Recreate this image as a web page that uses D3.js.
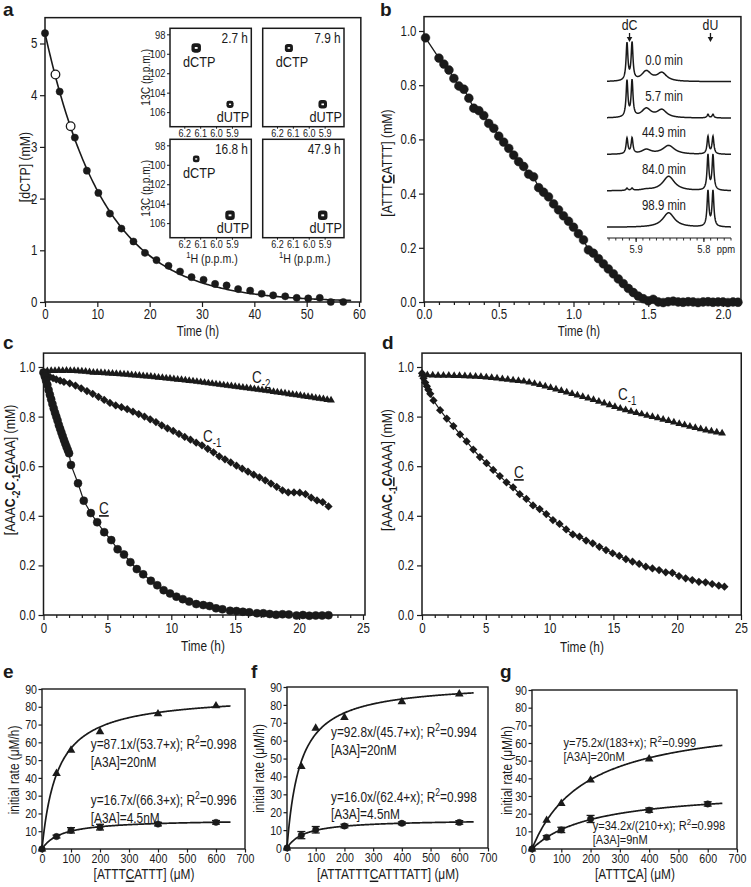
<!DOCTYPE html>
<html><head><meta charset="utf-8">
<script src="https://cdn.jsdelivr.net/npm/d3@7"></script>
<style>
body{margin:0;background:#fff;}
svg{display:block;}
</style></head><body>
<svg id="chart" width="751" height="887"></svg>
<script>
// ---------------- DATA ----------------
// panel a: dCTP decay
const aTime = [0, 2.8, 5.7, 8.0, 10.2, 12.4, 14.6, 16.9, 19.1, 21.3, 23.6, 25.8, 28.0, 30.3, 32.5, 34.7, 36.9, 39.2, 41.4, 43.6, 45.9, 48.1, 50.3, 52.5, 54.6, 57.0];
const aConc = [5.2, 4.07, 3.18, 2.54, 2.11, 1.71, 1.42, 1.17, 0.95, 0.81, 0.70, 0.59, 0.48, 0.43, 0.35, 0.32, 0.25, 0.22, 0.16, 0.13, 0.11, 0.08, 0.07, 0.08, 0.0, 0.0];
const aOpenTime = [2.0, 4.9];
const aOpenConc = [4.40, 3.40];
const aFitA0 = 5.2, aFitK = 0.088, aFitEnd = 58.5;
const aXTicks = [0, 10, 20, 30, 40, 50, 60];
const aYTicks = [0, 1, 2, 3, 4, 5];
// panel a insets (HSQC)
const insetLabels = ["2.7 h", "7.9 h", "16.8 h", "47.9 h"];
const dctpInt = [1.0, 0.85, 0.7, 0];
const dutpInt = [0.75, 0.9, 1.0, 1.0];
const peakH = [6.125, 5.912];   // 1H ppm of dCTP, dUTP
const peakC = [99.4, 105.2];    // 13C ppm of dCTP, dUTP
const insetXTicks = [6.2, 6.1, 6.0, 5.9];
const insetYTicks = [98, 100, 102, 104, 106];

// panel b
const bTime = [0.01,0.10,0.133,0.167,0.20,0.233,0.267,0.30,0.333,0.367,0.40,0.433,0.467,0.50,0.533,0.567,0.60,0.633,0.667,0.70,0.733,0.767,0.80,0.833,0.867,0.90,0.933,0.967,1.00,1.033,1.067,1.10,1.133,1.167,1.20,1.233,1.267,1.30,1.333,1.367,1.40,1.433,1.467,1.50,1.533,1.567,1.60,1.633,1.667,1.70,1.733,1.767,1.80,1.833,1.867,1.90,1.933,1.967,2.00,2.033,2.067,2.10];
const bConc = [0.975,0.900,0.878,0.856,0.825,0.797,0.785,0.752,0.715,0.706,0.688,0.659,0.641,0.612,0.590,0.567,0.542,0.518,0.500,0.472,0.462,0.422,0.405,0.388,0.362,0.340,0.318,0.298,0.276,0.252,0.229,0.192,0.180,0.160,0.141,0.122,0.104,0.085,0.068,0.050,0.035,0.022,0.012,0.004,0.010,0.000,-0.002,0.001,0.003,0.000,-0.001,0.001,0.000,-0.002,0.000,0.001,-0.001,0.000,0.000,-0.002,0.000,-0.001];
const bXTicks = [0, 0.5, 1.0, 1.5, 2.0];
const bXMinor = [0.1,0.2,0.3,0.4,0.6,0.7,0.8,0.9,1.1,1.2,1.3,1.4,1.6,1.7,1.8,1.9,2.1];
const bYTicks = [0, 0.2, 0.4, 0.6, 0.8, 1.0];
// panel b inset (1D NMR)
const specLabels = ["0.0 min", "5.7 min", "44.9 min", "84.0 min", "98.9 min"];
const specDC = [37, 36, 15.5, 2.2, 0];
const specDU = [0, 3.5, 17.5, 35, 35.5];
const specBumpA = [10, 9, 4.5, 1, 0];
const specBumpB = [8.3, 7.8, 0, 0, 0];
const specProd = [0, 0, 8.8, 14.5, 14.5];
const dCppm = [5.9135, 5.906], dUppm = [5.794, 5.7866];
const bumpAppm = 5.885, bumpBppm = 5.862, prodPpm = 5.852;
const specXTicks = [5.9, 5.8];

// panel c
const cTimeC2 = [0.0,0.3,0.6,0.9,1.2,1.5,1.8,2.1,2.4,2.7,3.0,3.3,3.6,3.9,4.2,4.5,4.8,5.1,5.4,5.7,6.0,6.3,6.6,6.9,7.2,7.5,7.8,8.1,8.4,8.7,9.0,9.3,9.6,9.9,10.2,10.5,10.8,11.1,11.4,11.7,12.0,12.3,12.6,12.9,13.2,13.5,13.8,14.1,14.4,14.7,15.0,15.3,15.6,15.9,16.2,16.5,16.8,17.1,17.4,17.7,18.0,18.3,18.6,18.9,19.2,19.5,19.8,20.1,20.4,20.7,21.0,21.3,21.6,21.9,22.2,22.5];
const cC2 = [0.980,0.984,0.985,0.985,0.986,0.985,0.986,0.985,0.985,0.984,0.983,0.982,0.980,0.978,0.978,0.977,0.976,0.975,0.974,0.973,0.972,0.971,0.970,0.968,0.967,0.966,0.964,0.963,0.962,0.960,0.958,0.957,0.955,0.954,0.952,0.950,0.949,0.947,0.945,0.943,0.941,0.939,0.937,0.935,0.933,0.931,0.929,0.927,0.925,0.923,0.921,0.919,0.917,0.915,0.913,0.911,0.909,0.907,0.905,0.903,0.900,0.898,0.896,0.894,0.891,0.889,0.887,0.885,0.882,0.880,0.878,0.875,0.873,0.871,0.868,0.866];
const cTimeC1 = [0,0.15,0.3,0.5,0.75,1.0,1.3,1.6,2.05,2.5,2.95,3.4,3.85,4.3,4.75,5.2,5.65,6.1,6.55,7.0,7.45,7.9,8.35,8.8,9.25,9.7,10.15,10.6,11.05,11.5,11.95,12.4,12.85,13.3,13.75,14.2,14.65,15.1,15.55,16.0,16.45,16.9,17.35,17.8,18.25,18.7,19.15,19.6,20.05,20.5,20.95,21.4,21.85,22.3];
const cC1 = [0.975,0.970,0.965,0.960,0.955,0.950,0.945,0.940,0.934,0.925,0.914,0.903,0.892,0.880,0.867,0.855,0.845,0.838,0.830,0.820,0.810,0.800,0.789,0.778,0.765,0.753,0.742,0.730,0.718,0.707,0.695,0.684,0.670,0.656,0.640,0.628,0.615,0.602,0.590,0.578,0.566,0.555,0.543,0.530,0.517,0.503,0.494,0.494,0.493,0.487,0.473,0.462,0.455,0.438];
const cTimeC = [0,0.1,0.2,0.3,0.4,0.5,0.6,0.7,0.8,0.9,1.0,1.1,1.2,1.3,1.4,1.5,1.6,1.7,1.8,1.9,2.0,2.15,2.7,3.15,3.7,4.2,4.75,5.3,5.8,6.3,6.8,7.3,7.8,8.4,8.9,9.4,9.9,10.4,10.9,11.4,11.95,12.5,13.0,13.5,14.0,14.6,15.1,15.6,16.1,16.7,17.2,17.7,18.2,18.7,19.2,19.8,20.3,20.8,21.3,21.8,22.3];
const cC = [0.978,0.962,0.945,0.928,0.907,0.888,0.870,0.851,0.833,0.816,0.800,0.784,0.766,0.751,0.736,0.721,0.706,0.692,0.678,0.665,0.652,0.605,0.531,0.461,0.411,0.374,0.334,0.302,0.265,0.244,0.213,0.185,0.164,0.138,0.120,0.100,0.087,0.074,0.064,0.054,0.044,0.040,0.036,0.027,0.023,0.017,0.016,0.013,0.011,0.007,0.007,0.004,0.001,0.003,0.002,-0.002,0.000,-0.003,-0.002,-0.002,-0.001];

// panel d
const dTimeC1 = [0.00,0.42,0.84,1.26,1.68,2.10,2.52,2.94,3.36,3.78,4.20,4.62,5.04,5.46,5.88,6.30,6.72,7.14,7.56,7.98,8.40,8.82,9.24,9.66,10.08,10.50,10.92,11.34,11.76,12.18,12.60,13.02,13.44,13.86,14.28,14.70,15.12,15.54,15.96,16.38,16.80,17.22,17.64,18.06,18.48,18.90,19.32,19.74,20.16,20.58,21.00,21.42,21.84,22.26,22.68,23.10,23.52];
const dC1 = [0.970,0.968,0.967,0.966,0.966,0.966,0.965,0.965,0.964,0.963,0.962,0.961,0.959,0.957,0.955,0.952,0.950,0.947,0.945,0.942,0.938,0.933,0.928,0.922,0.916,0.910,0.904,0.898,0.892,0.886,0.880,0.874,0.868,0.861,0.854,0.847,0.840,0.833,0.827,0.821,0.815,0.810,0.804,0.799,0.794,0.788,0.783,0.777,0.771,0.766,0.760,0.755,0.750,0.745,0.741,0.737,0.733];
const dTimeC = [0,0.12,0.25,0.38,0.5,0.65,0.9,1.42,1.94,2.46,2.98,3.5,4.02,4.54,5.06,5.58,6.1,6.62,7.14,7.66,8.18,8.7,9.22,9.74,10.26,10.78,11.3,11.82,12.34,12.86,13.38,13.9,14.42,14.94,15.46,15.98,16.5,17.02,17.54,18.06,18.58,19.1,19.62,20.14,20.66,21.18,21.7,22.22,22.74,23.26,23.7];
const dC = [0.975,0.955,0.937,0.922,0.908,0.892,0.865,0.826,0.792,0.762,0.728,0.700,0.667,0.637,0.612,0.585,0.560,0.535,0.515,0.487,0.468,0.442,0.427,0.407,0.383,0.367,0.345,0.325,0.316,0.300,0.289,0.275,0.262,0.249,0.238,0.225,0.215,0.206,0.195,0.188,0.181,0.172,0.170,0.157,0.148,0.141,0.134,0.132,0.125,0.118,0.114];
const cdXTicks = [0, 5, 10, 15, 20, 25];
const cdXMinor = [1,2,3,4,6,7,8,9,11,12,13,14,16,17,18,19,21,22,23,24];
const cdYTicks = [0, 0.2, 0.4, 0.6, 0.8, 1.0];

// panels e, f, g (Michaelis-Menten)
const mmSubstrate = [0, 50, 100, 200, 400, 600];
const eHigh = [0, 42.5, 55.5, 66, 76, 80.5];
const eLow = [0, 7.0, 10.5, 12.3, 14.0, 15.0];
const eLowErr = [0, 0.8, 1.5, 1.6, 1.0, 1.0];
const fHigh = [0, 45.5, 67, 73, 81.8, 86.1];
const fLow = [0, 7.2, 10.2, 12.3, 13.8, 14.3];
const fLowErr = [0, 2.0, 1.8, 1.0, 0.8, 1.0];
const gHighSubstrate = [0, 50, 100, 200, 400];
const gHigh = [0, 16.2, 25.8, 39.0, 51.0];
const gLow = [0, 6.6, 10.8, 17.0, 22.0, 25.5];
const gLowErr = [0, 1.0, 1.5, 2.0, 1.2, 1.2];
const eVmax = [87.1, 16.7], eKm = [53.7, 66.3];
const fVmax = [92.8, 16.0], fKm = [45.7, 62.4];
const gVmax = [75.2, 34.2], gKm = [183, 210];
const eR2 = ["0.998", "0.996"], fR2 = ["0.994", "0.998"], gR2 = ["0.999", "0.998"];
const eEnz = ["[A3A]=20nM", "[A3A]=4.5nM"], fEnz = ["[A3A]=20nM", "[A3A]=4.5nM"], gEnz = ["[A3A]=20nM", "[A3A]=9nM"];
const mmXTicks = [0, 100, 200, 300, 400, 500, 600, 700];
const mmYTicks = [0, 10, 20, 30, 40, 50, 60, 70, 80, 90];
const mmFitEnd = 650;

// ---------------- DRAWING ----------------
const FONT = '"Liberation Sans Narrow","Arial Narrow","Liberation Sans",Arial,sans-serif';
const NARROW = 0.82;
const INK = "#1a1a1a";
const svg = d3.select("#chart").attr("font-family", FONT);

function frame(x0, x1, y0, y1, sw) {
  svg.append("rect").attr("x", x0).attr("y", y0).attr("width", x1 - x0).attr("height", y1 - y0)
    .attr("fill", "none").attr("stroke", INK).attr("stroke-width", sw || 1.5);
}
function axes(x, y, o) {
  const Y0 = y.range()[0], X0 = x.range()[0];
  const style = g => {
    g.attr("font-family", FONT).attr("font-size", o.fs).attr("color", INK);
    g.select(".domain").remove();
    g.selectAll("line").attr("stroke-width", 1.2);
  };
  svg.append("g").attr("transform", `translate(0,${Y0})`)
    .call(d3.axisBottom(x).tickValues(o.xt).tickFormat(o.xf).tickSize(o.tl).tickPadding(o.tp)).call(style);
  if (o.xm) svg.append("g").attr("transform", `translate(0,${Y0})`)
    .call(d3.axisBottom(x).tickValues(o.xm).tickFormat("").tickSize(o.tl * 0.6)).call(style);
  svg.append("g").attr("transform", `translate(${X0},0)`)
    .call(d3.axisLeft(y).tickValues(o.yt).tickFormat(o.yf).tickSize(o.tl).tickPadding(o.tp)).call(style);
}
function rich(t, parts, fs) {
  let shift = 0;
  parts.forEach(p => {
    const want = p.sub ? fs * 0.3 : p.sup ? -fs * 0.38 : 0;
    const ts = t.append("tspan").text(p.t).attr("dy", want - shift);
    shift = want;
    if (p.sub || p.sup) ts.attr("font-size", fs * 0.72);
    if (p.b) ts.attr("font-weight", "bold");
    if (p.u) ts.attr("text-decoration", "underline");
  });
}
function label(x, y, txt, fs, opt) {
  opt = opt || {};
  const t = svg.append("text").attr("x", x).attr("y", y).attr("font-size", fs).attr("fill", INK)
    .attr("text-anchor", opt.anchor || "middle");
  if (opt.bold) t.attr("font-weight", "bold");
  if (typeof txt === "string") t.text(txt); else rich(t, txt, fs);
  return t;
}
function vlabel(x, y, parts, fs) {
  const t = svg.append("text").attr("transform", `translate(${x},${y}) rotate(-90)`)
    .attr("font-size", fs).attr("fill", INK).attr("text-anchor", "middle").attr("dy", "0.35em");
  if (typeof parts === "string") t.text(parts); else rich(t, parts, fs);
}
function dots(X, Y, x, y, r, fill) {
  const n = Math.min(X.length, Y.length);
  svg.append("g").selectAll("circle").data(d3.range(n)).join("circle")
    .attr("cx", i => x(X[i])).attr("cy", i => y(Y[i])).attr("r", r)
    .attr("fill", fill || INK).attr("stroke", INK).attr("stroke-width", fill === "white" ? 1.3 : 0.5);
}
function symbols(X, Y, x, y, type, size, rot) {
  const n = Math.min(X.length, Y.length);
  svg.append("g").selectAll("path").data(d3.range(n)).join("path")
    .attr("d", d3.symbol(type, size))
    .attr("transform", i => `translate(${x(X[i])},${y(Y[i])})` + (rot ? ` rotate(${rot})` : ""))
    .attr("fill", INK);
}
function polyline(X, Y, x, y, sw) {
  const n = Math.min(X.length, Y.length);
  svg.append("path").datum(d3.range(n))
    .attr("d", d3.line().x(i => x(X[i])).y(i => y(Y[i])))
    .attr("fill", "none").attr("stroke", INK).attr("stroke-width", sw || 1.2);
}
function panelLetter(x, y, s) {
  svg.append("text").attr("class", "wide").attr("x", x).attr("y", y).attr("font-size", 19).attr("font-weight", "bold")
    .attr("font-family", '"Liberation Sans",Arial,sans-serif').attr("fill", INK).text(s);
}

// ===== Panel a =====
{
  const x = d3.scaleLinear().domain([0, 60]).range([45, 359]);
  const y = d3.scaleLinear().domain([0, 5]).range([302, 43.5]);
  frame(x(0), x(60.35), y(5.5), y(0));
  axes(x, y, { xt: aXTicks, yt: aYTicks, xf: d3.format("d"), yf: d3.format("d"), tl: 5, tp: 2.5, fs: 14 });
  const fit = d3.range(0, aFitEnd + 0.01, 0.25);
  svg.append("path").datum(fit)
    .attr("d", d3.line().x(t => x(t)).y(t => y(aFitA0 * Math.exp(-aFitK * t))))
    .attr("fill", "none").attr("stroke", INK).attr("stroke-width", 1.6);
  dots(aTime, aConc, x, y, 3.6);
  dots(aOpenTime, aOpenConc, x, y, 4.3, "white");
  vlabel(25, 167, "[dCTP] (mM)", 15);
  label(198, 336, "Time (h)", 14);
  panelLetter(3, 16, "a");

  // insets
  const pos = [[170, 28.3], [262.7, 28.3], [170, 139.3], [262.7, 139.3]];
  const sz = d3.scaleLinear().domain([0, 1]).range([0, 9.5]);
  pos.forEach(([ix, iy], k) => {
    const xs = d3.scaleLinear().domain([6.29, 5.778]).range([ix, ix + 81.3]);
    const ys = d3.scaleLinear().domain([97.38, 107.5]).range([iy, iy + 98.4]);
    svg.append("rect").attr("x", ix).attr("y", iy).attr("width", 81.3).attr("height", 98.4)
      .attr("fill", "white").attr("stroke", INK).attr("stroke-width", 1.5);
    const gx = svg.append("g").attr("transform", `translate(0,${iy + 98.4})`)
      .call(d3.axisBottom(xs).tickValues(insetXTicks).tickFormat(d3.format(".1f")).tickSize(2).tickPadding(0.5));
    gx.attr("font-family", FONT).attr("font-size", 11).attr("color", INK).select(".domain").remove();
    if (k % 2 === 0) {
      const gy = svg.append("g").attr("transform", `translate(${ix},0)`)
        .call(d3.axisLeft(ys).tickValues(insetYTicks).tickFormat(d3.format("d")).tickSize(3).tickPadding(1.5));
      gy.attr("font-family", FONT).attr("font-size", 11.5).attr("color", INK).select(".domain").remove();
      vlabel(ix - 24.5, iy + 49, "13C (p.p.m.)", 12.5);
    }
    if (k >= 2) label(ix + 42, iy + 123.5, [{ t: "1", sup: 1 }, { t: "H (p.p.m.)" }], 13);
    // peaks
    [dctpInt[k], dutpInt[k]].forEach((v, j) => {
      if (v <= 0) return;
      const s = sz(v), cx = xs(peakH[j]), cy = ys(peakC[j]);
      svg.append("rect").attr("x", cx - s / 2).attr("y", cy - s / 2).attr("width", s).attr("height", s)
        .attr("rx", s * 0.35).attr("fill", INK);
      svg.append("rect").attr("x", cx - s * 0.15).attr("y", cy - s * 0.1).attr("width", s * 0.3).attr("height", s * 0.2)
        .attr("fill", "white");
    });
    if (dctpInt[k] > 0) label(xs(peakH[0]) + 3, ys(peakC[0]) + 19, "dCTP", 15.5);
    label(xs(peakH[1]) + 3, ys(peakC[1]) + 18, "dUTP", 15.5);
    label(ix + 78, iy + 15, insetLabels[k], 14.5, { anchor: "end" });
  });
}

// ===== Panel b =====
{
  const x = d3.scaleLinear().domain([0, 2]).range([424, 723]);
  const y = d3.scaleLinear().domain([0, 1]).range([302, 31]);
  frame(x(0), x(2.12), y(1.053), y(0));
  axes(x, y, { xt: bXTicks, xm: bXMinor, yt: bYTicks, xf: d3.format(".1f"), yf: d3.format(".1f"), tl: 5, tp: 2.5, fs: 14 });
  polyline(bTime, bConc, x, y, 1.3);
  dots(bTime, bConc, x, y, 4.4);
  vlabel(392, 163, [{ t: "[ATTT" }, { t: "C", b: 1, u: 1 }, { t: "ATTT] (mM)" }], 15);
  label(579, 336, "Time (h)", 14);
  panelLetter(380, 16, "b");

  // inset spectra
  const xs = d3.scaleLinear().domain([5.943, 5.760]).range([607, 731]);
  const lor = (p, p0, h, w) => h / (1 + ((p - p0) / w) * ((p - p0) / w));
  svg.append("rect").attr("x", 604).attr("y", 20).attr("width", 130).attr("height", 232).attr("fill", "white");
  specLabels.forEach((lab, k) => {
    const base = 81.7 + k * 36.4;
    const px = d3.range(607, 731.01, 0.25);
    const yv = p => {
      const q = xs.invert(p);
      return lor(q, dCppm[0], specDC[k], 0.0016) + lor(q, dCppm[1], specDC[k], 0.0016)
        + lor(q, dUppm[0], specDU[k], 0.0016) + lor(q, dUppm[1], specDU[k], 0.0016)
        + lor(q, bumpAppm, specBumpA[k], 0.0085) + lor(q, bumpBppm, specBumpB[k], 0.0085)
        + lor(q, prodPpm, specProd[k], 0.0105);
    };
    svg.append("path").datum(px)
      .attr("d", d3.line().x(p => p).y(p => base - yv(p)))
      .attr("fill", "none").attr("stroke", INK).attr("stroke-width", 1.5);
    label(664, base - 17, lab, 14);
  });
  // spectral axis
  svg.append("line").attr("x1", 607).attr("x2", 731).attr("y1", 238).attr("y2", 238).attr("stroke", INK).attr("stroke-width", 1.2);
  const minor = d3.range(5.94, 5.759, -0.01);
  svg.append("g").selectAll("line").data(minor).join("line")
    .attr("x1", d => xs(d)).attr("x2", d => xs(d)).attr("y1", 238).attr("y2", 240.5)
    .attr("stroke", INK).attr("stroke-width", 0.9);
  svg.append("g").selectAll("line").data(specXTicks).join("line")
    .attr("x1", d => xs(d)).attr("x2", d => xs(d)).attr("y1", 238).attr("y2", 242)
    .attr("stroke", INK).attr("stroke-width", 1.1);
  specXTicks.forEach(v => label(xs(v), 253, d3.format(".1f")(v), 11.5));
  label(726, 253, "ppm", 11.5);
  // arrows
  [[xs((dCppm[0] + dCppm[1]) / 2), "dC"], [xs((dUppm[0] + dUppm[1]) / 2), "dU"]].forEach(([ax, s]) => {
    label(ax, 30, s, 15);
    svg.append("line").attr("x1", ax).attr("x2", ax).attr("y1", 33).attr("y2", 38).attr("stroke", INK).attr("stroke-width", 1.3);
    svg.append("path").attr("d", `M${ax - 2.8},37 L${ax + 2.8},37 L${ax},42 Z`).attr("fill", INK);
  });
}

// ===== Panel c =====
{
  const x = d3.scaleLinear().domain([0, 25]).range([43.5, 363]);
  const y = d3.scaleLinear().domain([0, 1]).range([615, 367]);
  frame(x(0), 365, y(1.056), y(0));
  axes(x, y, { xt: cdXTicks, xm: cdXMinor, yt: cdYTicks, xf: d3.format("d"), yf: d3.format(".1f"), tl: 5, tp: 3, fs: 14 });
  polyline(cTimeC2, cC2, x, y, 1.2);
  polyline(cTimeC1, cC1, x, y, 1.2);
  polyline(cTimeC, cC, x, y, 1.2);
  symbols(cTimeC2, cC2, x, y, d3.symbolTriangle, 26);
  symbols(cTimeC1, cC1, x, y, d3.symbolSquare, 34, 45);
  dots(cTimeC, cC, x, y, 4);
  label(252, 383, [{ t: "C" }, { t: "-2", sub: 1 }], 16.5, { anchor: "start" });
  label(203, 442, [{ t: "C" }, { t: "-1", sub: 1 }], 16.5, { anchor: "start" });
  label(99, 514, [{ t: "C", u: 1 }], 16.5, { anchor: "start" });
  vlabel(15, 470, [{ t: "[AAA" }, { t: "C", b: 1 }, { t: "-2", b: 1, sub: 1 }, { t: "C", b: 1 }, { t: "-1", b: 1, sub: 1 }, { t: "C", b: 1, u: 1 }, { t: "AAA] (mM)" }], 15);
  label(203, 651, "Time (h)", 14.5);
  panelLetter(3, 349, "c");
}

// ===== Panel d =====
{
  const x = d3.scaleLinear().domain([0, 25]).range([422, 741]);
  const y = d3.scaleLinear().domain([0, 1]).range([615, 367]);
  frame(x(0), x(25.02), y(1.056), y(0));
  axes(x, y, { xt: cdXTicks, xm: cdXMinor, yt: cdYTicks, xf: d3.format("d"), yf: d3.format(".1f"), tl: 5, tp: 3, fs: 14 });
  polyline(dTimeC1, dC1, x, y, 1.2);
  polyline(dTimeC, dC, x, y, 1.2);
  symbols(dTimeC1, dC1, x, y, d3.symbolTriangle, 26);
  symbols(dTimeC, dC, x, y, d3.symbolSquare, 34, 45);
  label(618, 400, [{ t: "C" }, { t: "-1", sub: 1 }], 16.5, { anchor: "start" });
  label(514, 478, [{ t: "C", u: 1 }], 16.5, { anchor: "start" });
  vlabel(392, 470, [{ t: "[AAA" }, { t: "C", b: 1 }, { t: "-1", b: 1, sub: 1 }, { t: "C", b: 1, u: 1 }, { t: "AAAA] (mM)" }], 15);
  label(582, 652.5, "Time (h)", 14.5);
  panelLetter(382, 349, "d");
}

// ===== Panels e, f, g =====
function mmPanel(p) {
  const x = d3.scaleLinear().domain([0, 700]).range(p.xr);
  const y = d3.scaleLinear().domain([0, 90]).range(p.yr);
  frame(p.xr[0], p.xr[1], p.yr[1], p.yr[0], 1.4);
  axes(x, y, { xt: mmXTicks, yt: mmYTicks, xf: d3.format("d"), yf: d3.format("d"), tl: 3.5, tp: 1.5, fs: 13 });
  const xs = d3.range(0, mmFitEnd + 0.1, 2);
  [0, 1].forEach(j => {
    svg.append("path").datum(xs)
      .attr("d", d3.line().x(s => x(s)).y(s => y(p.vmax[j] * s / (p.km[j] + s))))
      .attr("fill", "none").attr("stroke", INK).attr("stroke-width", 1.7);
  });
  const n = Math.min(mmSubstrate.length, p.low.length);
  const eb = svg.append("g").attr("stroke", INK).attr("stroke-width", 1.3);
  d3.range(n).forEach(i => {
    if (!p.err[i]) return;
    const cx = x(mmSubstrate[i]), y1 = y(p.low[i] - p.err[i]), y2 = y(p.low[i] + p.err[i]);
    eb.append("line").attr("x1", cx).attr("x2", cx).attr("y1", y1).attr("y2", y2);
    eb.append("line").attr("x1", cx - 4).attr("x2", cx + 4).attr("y1", y1).attr("y2", y1);
    eb.append("line").attr("x1", cx - 4).attr("x2", cx + 4).attr("y1", y2).attr("y2", y2);
  });
  dots(mmSubstrate, p.low, x, y, 3.2);
  symbols(p.hx, p.high, x, y, d3.symbolTriangle, 32);
  p.ann.forEach((a, j) => {
    const v = p.vmax[j].toFixed(1);
    label(a[0], a[1], [{ t: `y=${v}x/(${p.km[j]}+x); R` }, { t: "2", sup: 1 }, { t: "=" + p.r2[j] }], p.afs, { anchor: "start" });
    label(a[0], a[2], p.enz[j], p.afs, { anchor: "start" });
  });
  vlabel(p.ylx, (p.yr[0] + p.yr[1]) / 2 + 1, "initial rate (\u03bcM/h)", 14.5);
  label((p.xr[0] + p.xr[1]) / 2 + 0.5, 879.5, p.xl, 14.5);
  panelLetter(p.lx, 678, p.letter);
}
mmPanel({ xr: [42, 245], yr: [849, 689], vmax: eVmax, km: eKm, r2: eR2, enz: eEnz, hx: mmSubstrate, high: eHigh, low: eLow, err: eLowErr,
  ann: [[90.7, 749, 767], [90.7, 805, 823]], afs: 14.5, ylx: 14, lx: 3, letter: "e",
  xl: [{ t: "[ATTT" }, { t: "C", u: 1 }, { t: "ATTT] (\u03bcM)" }] });
mmPanel({ xr: [287, 488], yr: [848, 687], vmax: fVmax, km: fKm, r2: fR2, enz: fEnz, hx: mmSubstrate, high: fHigh, low: fLow, err: fLowErr,
  ann: [[331, 737, 755.5], [331, 802, 819]], afs: 14.5, ylx: 259, lx: 251, letter: "f",
  xl: [{ t: "[ATTATTT" }, { t: "C", u: 1 }, { t: "ATTTATT] (\u03bcM)" }] });
mmPanel({ xr: [532, 737], yr: [849, 690], vmax: gVmax, km: gKm, r2: gR2, enz: gEnz, hx: gHighSubstrate, high: gHigh, low: gLow, err: gLowErr,
  ann: [[563.5, 747, 761], [592.7, 830.5, 844.5]], afs: 13.5, ylx: 507, lx: 500, letter: "g",
  xl: [{ t: "[ATTT" }, { t: "C", u: 1 }, { t: "A] (\u03bcM)" }] });

// condense all text horizontally (narrow sans like the original) around its anchor point
svg.selectAll("text").filter(function () { return !this.classList.contains("wide"); }).each(function () {
  const el = d3.select(this);
  const x = +el.attr("x") || 0, y = +el.attr("y") || 0;
  const tr = el.attr("transform") || "";
  el.attr("transform", `${tr} translate(${x},${y}) scale(${NARROW},1) translate(${-x},${-y})`);
});
</script>
</body></html>
